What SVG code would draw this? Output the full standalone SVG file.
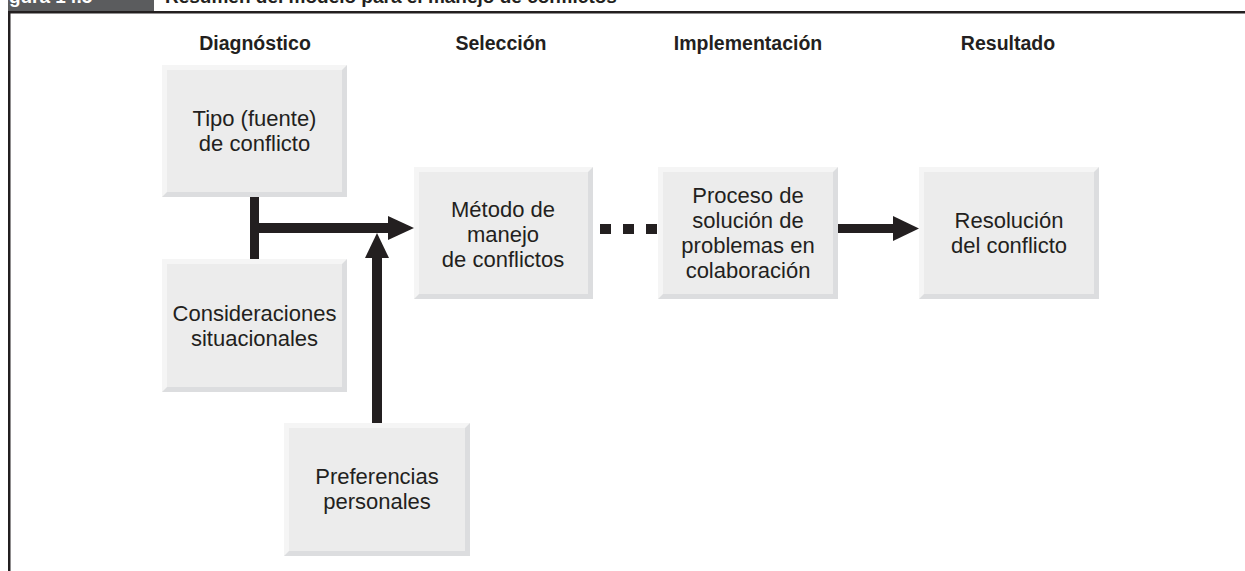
<svg xmlns="http://www.w3.org/2000/svg" width="1245" height="571" viewBox="0 0 1245 571">
<style>
.lt{fill:#f5f5f5}
.dk{fill:#dcdddf}
.in{fill:#ececec}
.lbl{font-family:"Liberation Sans",Arial,sans-serif;font-size:22px;fill:#231f20;text-anchor:middle}
.hd{font-family:"Liberation Sans",Arial,sans-serif;font-size:19.5px;font-weight:bold;fill:#231f20;text-anchor:middle}
.ttl{font-family:"Liberation Sans",Arial,sans-serif;font-size:19px;font-weight:bold}
.ink{fill:#231f20}
</style>
<rect x="0" y="0" width="1245" height="571" fill="#ffffff"/>
<g id="frame">
<rect x="8" y="0" width="146" height="11" fill="#5b5c5e"/>
<text class="ttl" x="-8" y="2.5" fill="#ffffff">Figura 14.5</text>
<text class="ttl" x="165" y="2.5" fill="#231f20">Resumen del modelo para el manejo de conflictos</text>
<rect x="8" y="11" width="1237" height="2.5" class="ink"/>
<rect x="8" y="11" width="2.5" height="560" class="ink"/>
</g>
<g id="headers">
<text class="hd" x="255" y="50">Diagnóstico</text>
<text class="hd" x="501" y="50">Selección</text>
<text class="hd" x="748" y="50">Implementación</text>
<text class="hd" x="1008" y="50">Resultado</text>
</g>
<g id="tipo">
<rect class="dk" x="162" y="65" width="185" height="132"/>
<polygon class="lt" points="162,65 347,65 342,70 167,70 167,192 162,197"/>
<rect class="in" x="167" y="70" width="175" height="122"/>
<text class="lbl" x="254.5" y="126">Tipo (fuente)</text>
<text class="lbl" x="254.5" y="151">de conflicto</text>
</g>
<g id="consideraciones">
<rect class="dk" x="162" y="259" width="185" height="133"/>
<polygon class="lt" points="162,259 347,259 342,264 167,264 167,387 162,392"/>
<rect class="in" x="167" y="264" width="175" height="123"/>
<text class="lbl" x="254.5" y="321">Consideraciones</text>
<text class="lbl" x="254.5" y="346">situacionales</text>
</g>
<g id="preferencias">
<rect class="dk" x="284" y="423" width="186" height="133"/>
<polygon class="lt" points="284,423 470,423 465,428 289,428 289,551 284,556"/>
<rect class="in" x="289" y="428" width="176" height="123"/>
<text class="lbl" x="377" y="484">Preferencias</text>
<text class="lbl" x="377" y="509">personales</text>
</g>
<g id="metodo">
<rect class="dk" x="414" y="167" width="179" height="132"/>
<polygon class="lt" points="414,167 593,167 588,172 419,172 419,294 414,299"/>
<rect class="in" x="419" y="172" width="169" height="122"/>
<text class="lbl" x="503" y="217">Método de</text>
<text class="lbl" x="503" y="242">manejo</text>
<text class="lbl" x="503" y="267">de conflictos</text>
</g>
<g id="proceso">
<rect class="dk" x="658" y="167" width="180" height="132"/>
<polygon class="lt" points="658,167 838,167 833,172 663,172 663,294 658,299"/>
<rect class="in" x="663" y="172" width="170" height="122"/>
<text class="lbl" x="748" y="203">Proceso de</text>
<text class="lbl" x="748" y="228">solución de</text>
<text class="lbl" x="748" y="253">problemas en</text>
<text class="lbl" x="748" y="278">colaboración</text>
</g>
<g id="resolucion">
<rect class="dk" x="919" y="167" width="180" height="132"/>
<polygon class="lt" points="919,167 1099,167 1094,172 924,172 924,294 919,299"/>
<rect class="in" x="924" y="172" width="170" height="122"/>
<text class="lbl" x="1009" y="228">Resolución</text>
<text class="lbl" x="1009" y="253">del conflicto</text>
</g>
<g id="connectors" class="ink">
<rect x="250" y="197" width="9" height="62"/>
<rect x="259" y="223" width="131" height="10"/>
<polygon points="388,216 414,228 388,240"/>
<rect x="372" y="256" width="10" height="167"/>
<polygon points="365,258 377,233 389,258"/>
<rect x="600" y="224" width="11" height="10"/>
<rect x="623" y="224" width="11" height="10"/>
<rect x="646" y="224" width="11" height="10"/>
<rect x="838" y="224" width="57" height="9"/>
<polygon points="893,216 919,228.5 893,241"/>
</g>
</svg>
